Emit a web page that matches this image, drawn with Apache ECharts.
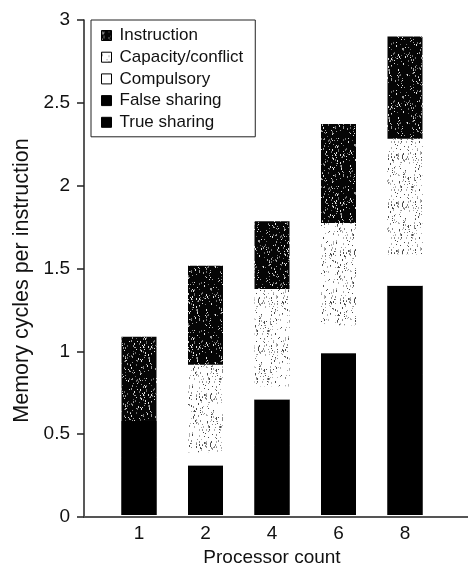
<!DOCTYPE html>
<html>
<head>
<meta charset="utf-8">
<script src="https://cdn.jsdelivr.net/npm/echarts@6/dist/echarts.min.js"></script>
<style>
html,body{margin:0;padding:0;background:#fff;}
#c{width:468px;height:572px;}
</style>
</head>
<body>
<div id="c"></div>
<script>
// ---- data ----
const categories = ['1', '2', '4', '6', '8'];
const trueSharing = [0.35, 0.18, 0.42, 0.60, 0.85];
const falseSharing = [0.22, 0.12, 0.28, 0.38, 0.54];
const compulsory = [0.00, 0.08, 0.08, 0.17, 0.19];
const capacityConflict = [0.00, 0.53, 0.59, 0.62, 0.70];
const instruction = [0.51, 0.60, 0.41, 0.60, 0.62];
const yTicks = [0, 0.5, 1, 1.5, 2, 2.5, 3];

// black underlay = true + false sharing (both drawn black), avoids anti-alias seams
const sharingTotal = trueSharing.map((v, i) => +(v + falseSharing[i]).toFixed(2));

// ---- speckle textures (styling only) ----
function makePattern(bg, dotColors, count, seed) {
  const s = 48;
  const cv = document.createElement('canvas');
  cv.width = s; cv.height = s;
  const ctx = cv.getContext('2d');
  ctx.fillStyle = bg;
  ctx.fillRect(0, 0, s, s);
  let st = seed;
  const rnd = () => { st = (st * 1103515245 + 12345) % 2147483648; return st / 2147483648; };
  for (let i = 0; i < count; i++) {
    ctx.fillStyle = dotColors[i % dotColors.length];
    const x = Math.floor(rnd() * s), y = Math.floor(rnd() * s);
    ctx.fillRect(x, y, 1, rnd() < 0.4 ? 2 : 1);
  }
  return { image: cv, repeat: 'repeat' };
}
const darkSpeckle = makePattern('#050505', ['#e0e0e0', '#9a9a9a', '#6a6a6a'], 200, 7);
const lightSpeckle = makePattern('#ffffff', ['#4a4a4a', '#8a8a8a', '#b0b0b0'], 210, 13);

const FONT = 'Liberation Sans, Arial, Helvetica, sans-serif';
const chart = echarts.init(document.getElementById('c'), null, { renderer: 'canvas' });

function seg(name, data, color) {
  return {
    name: name, type: 'bar', stack: 'total', xAxisIndex: 1, yAxisIndex: 1, z: 3,
    data: data, barWidth: 35, barGap: '-100%', itemStyle: { color: color }, emphasis: { disabled: true }
  };
}

chart.setOption({
  animation: false,
  backgroundColor: '#ffffff',
  textStyle: { fontFamily: FONT },
  grid: [
    { left: 84, right: 0, top: 20, bottom: 55 },
    { left: 105.75, width: 332.5, top: 20, bottom: 55 }
  ],
  legend: {
    orient: 'vertical', left: 91, top: 20,
    padding: [7, 12, 6, 10],
    borderColor: '#222', borderWidth: 1,
    itemWidth: 10, itemHeight: 10, itemGap: 4.7,
    icon: 'rect',
    itemStyle: { borderColor: '#000', borderWidth: 1 },
    textStyle: { fontSize: 17, color: '#111', lineHeight: 16, padding: [0, 0, 0, 3], fontFamily: FONT },
    data: ['Instruction', 'Capacity/conflict', 'Compulsory', 'False sharing', 'True sharing']
  },
  xAxis: [
    { gridIndex: 0, type: 'value', min: 0, max: 1,
      axisLine: { show: true, lineStyle: { color: '#555', width: 2 } },
      axisTick: { show: false }, axisLabel: { show: false }, splitLine: { show: false } },
    { gridIndex: 1, type: 'category', data: categories,
      axisLine: { show: false }, axisTick: { show: false },
      axisLabel: { fontSize: 19, color: '#111', margin: 9, fontFamily: FONT },
      name: 'Processor count', nameLocation: 'middle', nameGap: 33,
      nameTextStyle: { fontSize: 19, color: '#111', fontFamily: FONT } }
  ],
  yAxis: [
    { gridIndex: 0, type: 'value', min: yTicks[0], max: yTicks[yTicks.length - 1], interval: yTicks[1] - yTicks[0],
      axisLine: { show: true, lineStyle: { color: '#222', width: 1.5 } },
      axisTick: { show: true, inside: false, length: 7, lineStyle: { color: '#222', width: 1.5 } },
      axisLabel: { fontSize: 19, color: '#111', margin: 14, fontFamily: FONT },
      splitLine: { show: false },
      name: 'Memory cycles per instruction', nameLocation: 'middle', nameGap: 51,
      nameTextStyle: { fontSize: 21.5, color: '#111', fontFamily: FONT, padding: [0, 24, 0, 0] } },
    { gridIndex: 1, type: 'value', min: yTicks[0], max: yTicks[yTicks.length - 1], show: false }
  ],
  series: [
    { name: 'sharing-underlay', type: 'bar', xAxisIndex: 1, yAxisIndex: 1, z: 2, silent: true,
      data: sharingTotal, barWidth: 35, barGap: '-100%', itemStyle: { color: '#000' }, emphasis: { disabled: true } },
    seg('True sharing', trueSharing, '#000000'),
    seg('False sharing', falseSharing, '#000000'),
    seg('Compulsory', compulsory, '#ffffff'),
    seg('Capacity/conflict', capacityConflict, lightSpeckle),
    seg('Instruction', instruction, darkSpeckle)
  ]
});
</script>
</body>
</html>
